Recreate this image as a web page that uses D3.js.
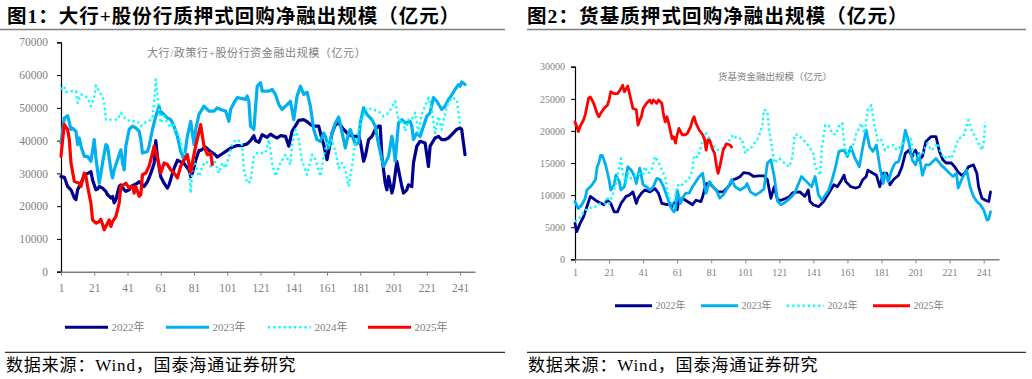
<!DOCTYPE html>
<html><head><meta charset="utf-8">
<script src="https://cdn.jsdelivr.net/npm/d3@7/dist/d3.min.js"></script>
<style>body{margin:0;background:#fff}svg{display:block}</style>
</head><body><svg id="c" width="1032" height="379"></svg>
<script>
// ---------- data ----------
const xTicks = [1,21,41,61,81,101,121,141,161,181,201,221,241];
const leftYTicks = [0,10000,20000,30000,40000,50000,60000,70000];
const rightYTicks = [0,5000,10000,15000,20000,25000,30000];
const seriesNames = ["2022年","2023年","2024年","2025年"];
const leftTitle = "图1：大行+股份行质押式回购净融出规模（亿元）";
const rightTitle = "图2：货基质押式回购净融出规模（亿元）";
const leftInner = "大行/政策行+股份行资金融出规模（亿元）";
const rightInner = "货基资金融出规模（亿元）";
const sourceText = "数据来源：Wind，国泰海通证券研究";

// [trading day, value]
const left2022 = [[1,29000],[3,28800],[5,26000],[7,25000],[9,22500],[10,22000],[11,25000],[13,27000],[15,29500],[17,30000],[19,30500],[20,28000],[22,25000],[23,25200],[24,26000],[26,25500],[28,24500],[29,23500],[31,22500],[32,23000],[33,21000],[34,22000],[36,26000],[37,26500],[39,25000],[40,24500],[42,25000],[43,26000],[47,27000],[48,27500],[51,26000],[53,27500],[55,30000],[57,33000],[58,40000],[59,35000],[61,29000],[63,27000],[65,25500],[66,26500],[68,30000],[69,31500],[71,34000],[73,33500],[75,33000],[78,31000],[79,29000],[80,30000],[82,34000],[84,37000],[85,37000],[88,38000],[90,37000],[93,36000],[95,35000],[98,36000],[101,37000],[104,38000],[107,38500],[110,38500],[113,39000],[115,40000],[117,41500],[118,40000],[120,39500],[122,41800],[125,41000],[127,42000],[129,41300],[131,40800],[133,41500],[136,41300],[138,38300],[140,42900],[142,44500],[144,46200],[147,46400],[149,45800],[151,44900],[153,44400],[156,44400],[158,40400],[159,38800],[161,34200],[163,39300],[164,42300],[166,44800],[168,45400],[171,43400],[174,41800],[177,41300],[180,41300],[181,39800],[183,33700],[184,35200],[186,40300],[188,41300],[190,43400],[192,44400],[193,44400],[194,35200],[196,27000],[197,25000],[198,29100],[200,24000],[201,26000],[203,33700],[204,31100],[206,26000],[207,24000],[209,25000],[210,26500],[212,26000],[213,33200],[215,38300],[217,39800],[220,39300],[222,32100],[223,38300],[226,40800],[228,41300],[230,40300],[232,40300],[234,40800],[236,41800],[239,43400],[241,43900],[242,43400],[244,35700]];
const left2023 = [[1,39300],[3,46900],[5,47600],[7,43400],[8,43800],[10,42800],[11,38800],[12,40800],[13,38300],[15,35200],[17,35200],[19,33700],[21,40300],[22,34700],[24,27000],[26,33200],[28,38800],[29,38300],[31,31100],[32,28600],[33,31100],[36,35700],[37,37200],[38,33200],[39,31100],[40,38300],[42,43400],[44,44400],[46,43900],[48,42800],[49,40300],[50,36200],[53,36700],[54,38300],[56,43400],[58,47400],[60,50500],[61,48000],[62,48500],[65,46900],[67,46400],[69,44400],[71,41300],[73,36700],[75,34200],[77,41300],[79,45900],[81,38800],[82,43400],[84,48000],[87,50500],[90,49000],[93,49000],[95,50000],[97,49500],[100,49000],[102,45900],[103,49500],[105,51500],[107,53100],[110,52800],[112,52600],[113,53600],[114,52000],[115,44400],[117,43400],[118,50000],[119,56600],[121,57700],[122,55100],[124,55100],[126,55100],[128,55600],[130,54100],[132,51000],[134,49500],[137,51000],[139,52000],[141,46400],[143,53600],[145,56600],[147,54100],[149,54800],[151,50500],[153,43400],[155,40300],[157,39800],[159,42300],[160,41300],[162,37800],[164,42300],[166,45400],[168,47200],[169,44900],[172,37800],[174,42300],[175,43400],[178,38800],[180,39300],[181,45400],[183,50000],[185,48000],[188,46400],[190,44400],[192,38800],[195,32100],[198,35200],[200,41300],[201,38300],[202,33700],[204,45400],[206,46400],[208,45400],[211,45900],[212,44400],[213,40300],[215,42300],[217,41300],[219,44400],[221,47400],[223,48500],[225,53100],[227,52000],[230,49500],[232,50500],[234,52600],[235,53100],[238,55600],[240,57100],[241,56600],[242,57900],[244,57100]];
const left2024 = [[1,55600],[3,56600],[4,54800],[6,55100],[8,55100],[10,55100],[11,51500],[13,54100],[15,53600],[17,53100],[19,50500],[21,53600],[22,56800],[24,55100],[26,53100],[27,51500],[28,46400],[30,46400],[33,46400],[35,46400],[37,48500],[40,46400],[43,45900],[47,45900],[49,44400],[51,45400],[54,45900],[56,46900],[57,51500],[58,58700],[59,53600],[61,45400],[63,47400],[65,45400],[67,43900],[68,45400],[70,43400],[72,41300],[74,37200],[76,35200],[78,32700],[79,24000],[80,31100],[81,34200],[84,29100],[86,32200],[88,33700],[91,32200],[93,34200],[96,30100],[98,33200],[100,31600],[102,35200],[104,38800],[106,40300],[109,39800],[110,38300],[111,31100],[113,27000],[115,27500],[117,35200],[119,36200],[122,36200],[124,36200],[126,40300],[128,33200],[130,29100],[133,33200],[136,35700],[139,32700],[140,38800],[142,43400],[144,40300],[146,33700],[149,29600],[152,35700],[154,34200],[157,29100],[159,35200],[161,39300],[162,38300],[164,40300],[166,36700],[168,31600],[170,33200],[172,31100],[174,26000],[176,32200],[178,39300],[180,43400],[182,46400],[185,50000],[188,49500],[192,49000],[195,47400],[198,48500],[202,52000],[203,49000],[204,45900],[206,46400],[208,42900],[210,46400],[212,46400],[214,48500],[216,42300],[218,48000],[222,53100],[224,49500],[226,42300],[228,47400],[230,43400],[233,50500],[236,53100],[239,52600],[241,44900]];
const left2025 = [[1,35200],[2,40300],[3,44900],[5,43400],[6,40300],[7,33200],[9,27600],[12,27000],[13,26000],[15,30100],[16,29100],[17,26000],[19,20900],[20,15800],[22,14800],[24,15300],[25,16000],[27,12800],[30,15800],[31,13800],[32,15300],[34,16800],[36,20900],[37,26000],[40,27000],[42,25500],[44,26000],[45,24000],[46,26000],[48,23000],[49,23500],[50,29600],[52,30100],[54,32200],[56,36200],[57,38300],[59,34700],[61,30100],[63,33200],[65,32700],[67,31100],[69,30100],[71,28600],[73,32200],[74,33200],[77,35700],[79,30100],[80,33200],[82,38300],[85,44900],[87,38300],[89,35700],[91,36200],[92,32700]];

const right2022 = [[1,5600],[2,4300],[4,5600],[6,6600],[8,8200],[10,9800],[13,9200],[15,8900],[18,8500],[20,9200],[22,8700],[24,7400],[26,7400],[28,8700],[31,9800],[33,10000],[35,10500],[37,8700],[38,9500],[40,10300],[42,10800],[45,10500],[48,11000],[50,10300],[52,8700],[55,8500],[57,8700],[58,8200],[60,9000],[61,7700],[62,9200],[64,9500],[67,9000],[70,8500],[72,9200],[75,9000],[76,9800],[78,11800],[80,11800],[82,11300],[85,10500],[88,10500],[91,11300],[94,12400],[96,12600],[98,12900],[100,13500],[103,13400],[106,12900],[109,13000],[112,13000],[114,12400],[116,9500],[118,11300],[120,9200],[122,9200],[125,9500],[127,9800],[129,10400],[133,10500],[136,9800],[138,10800],[139,9000],[141,8500],[144,8200],[147,9000],[150,10300],[153,11600],[155,11300],[157,12100],[159,13100],[160,12100],[163,11300],[166,11100],[168,11300],[170,12400],[172,12900],[173,13900],[176,13400],[178,13100],[180,11300],[182,13400],[184,13400],[186,11600],[188,12400],[191,13100],[193,14400],[195,16500],[197,17000],[199,16000],[201,17000],[203,15500],[205,16000],[207,18300],[210,19100],[213,19100],[215,16800],[217,15500],[219,15000],[222,15000],[224,14400],[226,13600],[228,13100],[230,13400],[232,14400],[235,14700],[237,13400],[238,11300],[240,9500],[242,9200],[244,9000],[245,10500]];
const right2023 = [[1,9000],[3,7900],[5,8500],[7,9500],[8,10800],[10,11300],[11,11600],[13,12400],[14,14400],[15,15000],[16,16200],[17,16200],[19,14700],[21,12400],[22,10800],[24,11600],[25,13100],[27,12100],[28,10800],[30,11300],[32,14400],[34,13900],[36,12900],[37,11800],[39,14200],[41,11600],[43,11300],[45,10800],[47,11300],[49,12600],[51,12400],[53,11300],[55,9800],[57,8200],[59,7400],[60,7700],[61,10800],[63,8700],[64,9500],[66,10300],[68,10300],[70,11300],[72,12100],[74,12900],[76,13400],[77,11600],[78,10300],[80,12100],[82,11300],[84,10800],[86,9500],[88,10000],[91,11300],[93,12400],[95,11300],[98,10800],[101,11300],[102,11800],[104,10500],[107,10000],[110,10500],[112,11000],[114,15000],[116,15500],[118,12900],[120,9000],[122,8500],[124,8800],[126,9200],[128,9700],[130,10300],[132,11600],[134,12900],[137,12100],[140,11300],[142,12900],[144,10000],[146,9200],[148,10000],[150,10800],[152,12400],[154,14400],[156,16800],[159,17000],[161,16000],[163,17500],[165,16000],[168,14400],[170,17500],[172,20100],[174,17500],[176,16800],[178,17800],[180,14400],[182,11800],[183,13400],[185,12100],[187,13900],[189,15000],[191,15200],[193,17000],[195,20100],[197,18300],[199,15500],[201,14700],[203,16500],[205,13100],[207,14700],[209,14700],[211,15200],[213,15700],[216,14700],[218,14200],[221,13400],[223,12900],[225,13400],[226,11100],[228,12400],[231,13900],[233,11300],[235,9800],[237,9000],[239,8500],[241,7700],[243,6100],[244,6300],[245,7400]];
const right2024 = [[1,5900],[3,6200],[5,6900],[7,7700],[9,7700],[11,8200],[13,8200],[16,8700],[19,8700],[20,9800],[21,8700],[23,10000],[25,11800],[28,15700],[29,13400],[31,11800],[32,13400],[34,12600],[36,12900],[38,13400],[41,13100],[42,14400],[44,13400],[46,13900],[48,16000],[50,15200],[52,13900],[54,12900],[55,10800],[57,9200],[59,8200],[60,10300],[62,11800],[64,11600],[66,12100],[68,12600],[70,13900],[71,16200],[73,15900],[75,17500],[76,18600],[78,19600],[80,18800],[82,17800],[85,17000],[88,17300],[91,18300],[94,19400],[96,18800],[99,18800],[101,16500],[103,17300],[105,17500],[107,18300],[109,19100],[111,20900],[112,23300],[114,23000],[115,20100],[117,17000],[118,15000],[120,15500],[121,15700],[124,15000],[127,14400],[129,16500],[130,19400],[132,19400],[135,18600],[137,18100],[139,17300],[141,16500],[142,14400],[144,13600],[145,13100],[146,17500],[148,20900],[150,20900],[152,19600],[154,19400],[156,20700],[158,21200],[159,18100],[161,16000],[162,16800],[164,17500],[166,19400],[169,21200],[171,19600],[173,23300],[175,24000],[177,20700],[179,18300],[181,18600],[183,17000],[185,17500],[188,17800],[190,17000],[192,17500],[195,18600],[198,18800],[200,16500],[202,16000],[205,16500],[208,18100],[210,17000],[212,17300],[214,18100],[216,16500],[218,15700],[220,16200],[222,15700],[224,17000],[226,18800],[229,19100],[231,20700],[232,21700],[234,20100],[237,18600],[239,17500],[240,17000],[241,18100],[242,21400]];
const right2025 = [[1,21400],[2,20700],[3,19900],[4,20700],[6,21700],[7,22500],[8,23800],[9,25100],[10,25300],[12,24300],[14,22700],[15,22200],[16,22700],[18,23500],[20,24000],[21,24800],[22,26100],[24,25800],[26,25800],[28,26600],[29,27100],[30,26100],[32,27000],[33,25800],[35,23500],[37,23300],[38,20900],[39,21700],[40,22200],[41,23500],[43,24300],[45,24800],[46,24300],[47,24800],[49,24300],[50,24800],[52,24300],[53,22500],[54,21400],[55,22200],[56,21200],[58,18800],[59,19100],[60,18100],[61,19400],[62,20400],[64,19400],[66,19400],[67,19600],[69,20700],[70,21700],[71,22200],[72,21200],[74,20100],[76,19400],[77,18800],[78,17000],[79,18600],[80,18600],[82,17000],[83,16500],[84,14700],[85,13400],[86,14400],[88,17000],[90,18000],[92,17800],[93,17500]];

// ---------- styles ----------
const colors = ["#000090","#00B0F0","#00FFFF","#FF0000"];
const SERIF = "'Liberation Serif','Times New Roman','Noto Sans CJK SC',serif";
const CJK = "'Liberation Serif','Noto Sans CJK SC',serif";

const svg = d3.select("#c");

function drawPanel(cfg) {
  const g = svg.append("g");
  const x = d3.scaleLinear().domain([1, 250]).range([cfg.x0, cfg.x1]);
  const y = d3.scaleLinear().domain([0, cfg.ymax]).range([cfg.yb, cfg.yt]);

  // title + rule
  g.append("text").attr("x", cfg.titleX).attr("y", 23)
    .attr("font-family", CJK).attr("font-weight", "bold").attr("font-size", 19.5)
    .attr("letter-spacing", cfg.titleLs).attr("fill", "#000").text(cfg.title);
  g.append("line").attr("x1", cfg.ruleX0).attr("x2", cfg.ruleX1).attr("y1", 29.5).attr("y2", 29.5)
    .attr("stroke", "#7f7f7f").attr("stroke-width", 1.5);

  // axes
  const yAxis = d3.axisLeft(y).tickValues(cfg.yTicks).tickSize(4).tickPadding(cfg.yPad).tickFormat(d3.format("d"));
  const ga = g.append("g").attr("transform", `translate(${cfg.x0},0)`).call(yAxis);
  ga.select(".domain").attr("stroke", "#000").attr("stroke-width", 1.2);
  ga.selectAll(".tick line").attr("stroke", "#000");
  ga.selectAll("text").attr("font-family", SERIF).attr("font-size", cfg.tickFs).attr("fill", "#7f7f7f");

  const xAxis = d3.axisBottom(x).tickValues(xTicks).tickSize(4).tickPadding(cfg.xPad).tickSizeOuter(0);
  const gx = g.append("g").attr("transform", `translate(0,${cfg.yb})`).call(xAxis);
  gx.select(".domain").attr("stroke", "#7f7f7f").attr("stroke-width", 1.5);
  gx.selectAll(".tick line").attr("stroke", "#7f7f7f");
  gx.selectAll("text").attr("font-family", SERIF).attr("font-size", cfg.tickFs).attr("fill", "#7f7f7f");

  // inner label
  g.append("text").attr("x", cfg.innerX).attr("y", cfg.innerY)
    .attr("font-family", CJK).attr("font-size", cfg.innerFs).attr("fill", "#7f7f7f")
    .attr("letter-spacing", cfg.innerLs).text(cfg.inner);

  // lines
  const line = d3.line().x(d => x(d[0])).y(d => y(d[1]));
  cfg.series.forEach((s, i) => {
    const p = g.append("path").datum(s).attr("d", line).attr("fill", "none")
      .attr("stroke", colors[i]).attr("stroke-linejoin", "round");
    if (i === 2) p.attr("stroke-width", 2.4).attr("stroke-dasharray", "2.2,3");
    else p.attr("stroke-width", cfg.lw).attr("stroke-linecap", "round");
  });

  // legend
  seriesNames.forEach((n, i) => {
    const lx = cfg.legX[i];
    const l = g.append("line").attr("x1", lx).attr("x2", lx + cfg.legLen)
      .attr("y1", cfg.legY).attr("y2", cfg.legY).attr("stroke", colors[i]);
    if (i === 2) l.attr("stroke-width", 2.4).attr("stroke-dasharray", "2.2,3");
    else l.attr("stroke-width", 3);
    g.append("text").attr("x", lx + cfg.legLen + 3.5).attr("y", cfg.legY + cfg.legFs * 0.35)
      .attr("font-family", CJK).attr("font-size", cfg.legFs).attr("fill", "#7f7f7f").text(n);
  });

  // source
  g.append("line").attr("x1", cfg.ruleX0 + cfg.srcRuleOff).attr("x2", cfg.ruleX1).attr("y1", 352.3).attr("y2", 352.3)
    .attr("stroke", "#333").attr("stroke-width", 1.2);
  g.append("text").attr("x", cfg.srcX).attr("y", 371)
    .attr("font-family", CJK).attr("font-size", 17).attr("letter-spacing", 0.85)
    .attr("fill", "#000").text(sourceText);
}

drawPanel({
  title: leftTitle, titleX: 7, titleLs: 1, ruleX0: 0, ruleX1: 505, srcRuleOff: 5, srcX: 6,
  x0: 61, x1: 475, yb: 271.7, yt: 42.3, ymax: 70000, yTicks: leftYTicks,
  tickFs: 11.5, yPad: 9, xPad: 8,
  inner: leftInner, innerX: 147, innerY: 56.5, innerFs: 11, innerLs: 0.6,
  series: [left2022, left2023, left2024, left2025], lw: 3.2,
  legX: [65, 166, 268, 368], legLen: 43, legY: 327.3, legFs: 11
});
drawPanel({
  title: rightTitle, titleX: 527, titleLs: 1.1, ruleX0: 527, ruleX1: 1026, srcRuleOff: 0, srcX: 528,
  x0: 575, x1: 999, yb: 259.3, yt: 66.7, ymax: 30000, yTicks: rightYTicks,
  tickFs: 10, yPad: 6, xPad: 6,
  inner: rightInner, innerX: 718, innerY: 79.5, innerFs: 9.5, innerLs: 0,
  series: [right2022, right2023, right2024, right2025], lw: 2.8,
  legX: [615, 701, 787, 873], legLen: 37, legY: 305.7, legFs: 10
});
</script></body></html>
